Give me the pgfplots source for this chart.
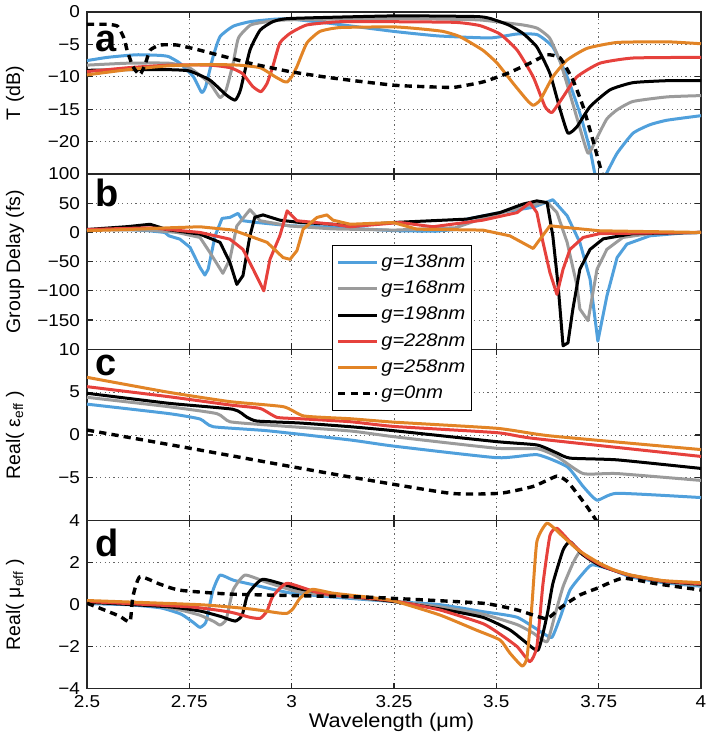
\documentclass[border=0pt]{standalone}
\usepackage{pgfplots}
\pgfplotsset{compat=1.18}
\usepackage{fontspec}
\setmainfont{Liberation Sans}
\newfontfamily\hfont[FakeStretch=1.1]{Liberation Sans}
\definecolor{cblue}{RGB}{80,160,220}
\definecolor{cgray}{RGB}{155,155,155}
\definecolor{cblack}{RGB}{0,0,0}
\definecolor{cred}{RGB}{230,65,60}
\definecolor{corange}{RGB}{226,132,38}
\tikzset{
 gz/.style={cblack, line width=1.7pt, dash pattern=on 3.6pt off 2.6pt},
 letter/.style={anchor=base west, inner sep=0pt, font=\fontsize{19}{19}\selectfont\bfseries},
}
\pgfplotsset{
 panel/.style={
  scale only axis, width=307pt, xmin=2.5, xmax=4,
  xtick={2.5,2.75,3,3.25,3.5,3.75,4},
  axis line style={line width=0.75pt, black!85},
  grid=major,
  major grid style={line width=0.45pt, black!60, dash pattern=on 0.6pt off 1.6pt},
  tick align=inside, tick pos=both, major tick length=3pt,
  tick style={line width=0.6pt, black!85},
  ticklabel style={font=\hfont\fontsize{8.6}{10}\selectfont},
  ylabel style={font=\fontsize{9.75}{11}\selectfont, at={(axis description cs:-0.117,0.5)}, anchor=center},
  every axis plot/.append style={line width=1.5pt, line join=round},
 },
 sm/.style={smooth, tension=0.3},
}
\begin{document}
\begin{tikzpicture}
% ---------------- panel a
\begin{axis}[panel, at={(0pt,0pt)}, anchor=north west, height=81pt,
  ymin=-25, ymax=0, ytick={-20,-15,-10,-5,0}, yticklabels={−20,−15,−10,−5,0},
  xticklabels={}, ylabel={T (dB)}]
\addplot[cblue,sm] coordinates {(2.5,-7.5)(2.55,-7.0)(2.62,-6.6)(2.68,-6.7)(2.70,-6.9)(2.727,-7.9)(2.76,-10.0)(2.78,-12.4)(2.79,-11.5)(2.808,-6.9)(2.825,-3.8)(2.857,-2.2)(2.898,-1.5)(2.96,-1.1)(3.0,-1.1)(3.1,-1.8)(3.25,-3.0)(3.36,-3.7)(3.485,-4.0)(3.55,-3.4)(3.60,-3.5)(3.638,-5.4)(3.673,-10)(3.704,-15.6)(3.729,-21.3)(3.741,-25)(3.753,-26.5)(3.77,-24.8)(3.795,-21.8)(3.834,-18.7)(3.875,-17.4)(3.917,-16.7)(4.0,-16.0)};
\addplot[cgray,sm] coordinates {(2.5,-8.2)(2.6,-7.9)(2.70,-7.9)(2.75,-8.6)(2.80,-11.0)(2.825,-13.2)(2.84,-12.0)(2.857,-7.9)(2.87,-4.0)(2.90,-2.0)(2.95,-1.4)(3.0,-1.2)(3.25,-1.0)(3.45,-1.2)(3.50,-1.5)(3.565,-2.0)(3.60,-2.5)(3.63,-4)(3.655,-7.5)(3.675,-11.6)(3.70,-17)(3.724,-21.8)(3.745,-19.5)(3.770,-16.5)(3.795,-15.1)(3.834,-13.8)(3.917,-13.1)(4.0,-12.9)};
\addplot[cblack,sm] coordinates {(2.5,-9.0)(2.6,-8.9)(2.70,-8.9)(2.75,-9.1)(2.80,-10.5)(2.84,-12.8)(2.862,-13.6)(2.875,-12)(2.898,-5.9)(2.923,-2.8)(2.954,-1.5)(2.996,-1.0)(3.25,-0.6)(3.45,-0.7)(3.485,-1.0)(3.53,-2.0)(3.565,-3.3)(3.599,-5.4)(3.631,-9.5)(3.656,-15.1)(3.675,-18.7)(3.697,-17.7)(3.729,-14.6)(3.778,-12)(3.834,-10.9)(3.917,-10.6)(4.0,-10.6)};
\addplot[cred,sm] coordinates {(2.5,-9.2)(2.6,-8.6)(2.70,-8.2)(2.80,-8.2)(2.85,-8.6)(2.88,-9.5)(2.905,-11.5)(2.925,-12.3)(2.94,-11.0)(2.954,-8.4)(2.971,-4.8)(2.996,-3.3)(3.037,-2.0)(3.118,-1.5)(3.25,-1.5)(3.40,-1.6)(3.46,-2.1)(3.509,-3.4)(3.551,-5.9)(3.590,-10)(3.619,-14.6)(3.636,-15.5)(3.663,-13.1)(3.697,-10)(3.753,-7.9)(3.834,-7.1)(4.0,-7.0)};
\addplot[corange,sm] coordinates {(2.5,-9.7)(2.6,-8.9)(2.70,-8.3)(2.80,-8.1)(2.87,-8.2)(2.923,-8.6)(2.96,-10.0)(2.98,-10.7)(2.989,-10.8)(3.0,-10.0)(3.013,-8.4)(3.037,-4.8)(3.069,-3.0)(3.118,-2.4)(3.25,-2.3)(3.314,-2.6)(3.37,-3.0)(3.411,-3.8)(3.467,-5.9)(3.502,-7.9)(3.541,-11)(3.575,-13.6)(3.590,-14.4)(3.607,-13.6)(3.638,-10)(3.673,-7.4)(3.722,-5.6)(3.795,-4.7)(3.917,-4.6)(4.0,-4.9)};
\addplot[gz,sm] coordinates {(2.5,-1.9)(2.55,-1.9)(2.575,-2.2)(2.59,-4.0)(2.598,-5.9)(2.612,-8.4)(2.629,-9.7)(2.642,-8.1)(2.654,-5.9)(2.678,-5.1)(2.72,-5.1)(2.776,-5.9)(2.898,-7.9)(2.996,-9.2)(3.101,-10.2)(3.25,-11.3)(3.362,-11.6)(3.40,-11.6)(3.467,-10.8)(3.526,-9.5)(3.582,-7.9)(3.624,-6.6)(3.656,-7.1)(3.687,-10.5)(3.712,-14.6)(3.736,-19.8)(3.758,-24.9)(3.775,-28)};
\node[letter] at (rel axis cs:0.013,0.755) {a};
\end{axis}
% ---------------- panel b
\begin{axis}[panel, at={(0pt,-81pt)}, anchor=north west, height=87.65pt,
  ymin=-200, ymax=100, ytick={-150,-100,-50,0,50,100}, yticklabels={−150,−100,−50,0,50,100},
  xticklabels={}, ylabel={Group Delay (fs)}]
\addplot[cblue] coordinates {(2.5,5)(2.6,5)(2.65,3)(2.69,0)(2.70,-5.8)(2.727,-11.5)(2.752,-25.7)(2.776,-60)(2.788,-73)(2.796,-63)(2.813,-5.8)(2.830,24)(2.849,25.7)(2.869,32.6)(2.881,20)(2.915,17)(2.996,11.4)(3.1,9)(3.25,3)(3.35,2)(3.40,5)(3.428,22.8)(3.509,34)(3.590,43)(3.631,54)(3.638,56)(3.673,28.5)(3.704,-17)(3.729,-80)(3.748,-186)(3.770,-109)(3.795,-43)(3.819,-20)(3.875,-5.8)(3.956,-1)(4.0,0)};
\addplot[cgray] coordinates {(2.5,5)(2.65,4)(2.72,0)(2.776,-8.6)(2.800,-34)(2.832,-70)(2.849,-46)(2.866,11)(2.898,39)(2.923,20)(2.996,11)(3.1,6)(3.25,4)(3.4,8)(3.45,20)(3.509,33)(3.57,45)(3.624,52)(3.648,34)(3.673,-17)(3.697,-91)(3.704,-131)(3.724,-151)(3.746,-63)(3.770,-29)(3.809,-8.6)(3.875,-2)(4.0,0)};
\addplot[cblack] coordinates {(2.5,5)(2.6,10)(2.654,14)(2.695,5)(2.776,-3)(2.825,-17)(2.849,-51)(2.866,-89)(2.881,-74)(2.898,-6)(2.910,26)(2.930,30)(2.971,21)(3.020,17)(3.101,14)(3.143,11)(3.248,17)(3.428,22.8)(3.509,34)(3.565,48.5)(3.599,54)(3.624,51)(3.638,-6)(3.651,-91)(3.663,-194)(3.675,-189)(3.687,-131)(3.704,-63)(3.729,-29)(3.761,-11)(3.834,-2)(4.0,0)};
\addplot[cred] coordinates {(2.5,5)(2.654,8)(2.776,0)(2.849,-11.5)(2.881,-29)(2.906,-63)(2.932,-100)(2.947,-46)(2.971,-6)(2.989,37)(3.013,20)(3.101,14)(3.143,9.7)(3.265,17)(3.345,9.7)(3.467,21)(3.551,34)(3.582,51)(3.599,34)(3.614,-17)(3.631,-69)(3.648,-106)(3.663,-63)(3.680,-29)(3.712,-8.6)(3.753,-2)(4.0,0)};
\addplot[corange] coordinates {(2.5,3)(2.6,5)(2.703,8)(2.776,9.7)(2.857,4)(2.940,-17)(2.979,-43)(2.996,-46)(3.013,-31)(3.028,5.6)(3.062,25.7)(3.086,30)(3.101,21)(3.143,14)(3.248,17)(3.306,5.6)(3.467,4)(3.533,-5.8)(3.590,-27.5)(3.631,11.4)(3.663,9)(3.753,2.8)(4.0,0)};
\node[letter] at (rel axis cs:0.013,0.817) {b};
\end{axis}
% ---------------- panel c
\begin{axis}[panel, at={(0pt,-168.65pt)}, anchor=north west, height=85.7pt,
  ymin=-10, ymax=10, ytick={-5,0,5,10}, yticklabels={−5,0,5,10},
  xticklabels={}, ylabel={Real( ε\textsubscript{eff} )}]
\addplot[cblue,sm] coordinates {(2.5,3.6)(2.70,2.5)(2.776,1.87)(2.808,0.97)(2.94,0.5)(3.143,-0.58)(3.25,-1.3)(3.502,-2.65)(3.60,-2.3)(3.673,-3.7)(3.712,-6.0)(3.746,-7.6)(3.795,-6.8)(4.0,-7.3)};
\addplot[cgray,sm] coordinates {(2.5,4.4)(2.70,3.3)(2.817,2.5)(2.849,1.55)(2.94,1.17)(3.143,0.47)(3.25,-0.2)(3.502,-1.55)(3.60,-1.6)(3.648,-2.5)(3.712,-4.5)(3.795,-4.5)(4.0,-5.3)};
\addplot[cblack,sm] coordinates {(2.5,4.87)(2.70,3.7)(2.857,3.0)(2.89,2.1)(2.915,1.63)(3.02,1.4)(3.143,0.97)(3.25,0.5)(3.502,-0.78)(3.60,-1.17)(3.648,-2.1)(3.680,-2.7)(3.795,-2.9)(4.0,-3.9)};
\addplot[cred,sm] coordinates {(2.5,5.64)(2.70,4.47)(2.85,3.5)(2.923,3.1)(2.964,2.06)(3.02,1.9)(3.143,1.55)(3.25,1.0)(3.502,0.27)(3.59,-0.39)(4.0,-2.5)};
\addplot[corange,sm] coordinates {(2.5,6.73)(2.70,4.98)(2.85,3.89)(2.98,3.3)(3.03,2.22)(3.143,1.9)(3.25,1.5)(3.502,0.78)(3.631,-0.1)(4.0,-1.7)};
\addplot[gz,sm] coordinates {(2.5,0.58)(2.752,-1.55)(2.989,-3.6)(3.143,-4.9)(3.387,-6.8)(3.509,-6.8)(3.590,-6.0)(3.648,-4.8)(3.673,-5.4)(3.697,-6.8)(3.722,-8.4)(3.746,-10.1)(3.765,-11.5)};
\node[letter] at (rel axis cs:0.013,0.85) {c};
\end{axis}
% ---------------- panel d
\begin{axis}[panel, name=pd, at={(0pt,-254.35pt)}, anchor=north west, height=84pt,
  ymin=-4, ymax=4, ytick={-4,-2,0,2,4}, yticklabels={−4,−2,0,2,4},
  xticklabels={2.5,2.75,3,3.25,3.5,3.75,4},
  ylabel={Real( μ\textsubscript{eff} )},
  legend style={at={(axis description cs:0.399,2.641)}, anchor=north west,
    draw=black, line width=0.6pt, fill=white, inner xsep=2pt, inner ysep=2pt, row sep=0pt,
    font=\hfont\itshape\fontsize{9.1}{11}\selectfont,
    nodes={text height=7.4pt, text depth=2.6pt, inner ysep=1.55pt, inner xsep=1.2pt, anchor=west}},
  legend cell align=left,
  legend image code/.code={\draw[#1] (0pt,0pt) -- (19.5pt,0pt);}]
\addplot[cblue,sm] coordinates {(2.5,0.05)(2.6,0.0)(2.68,-0.15)(2.73,-0.45)(2.76,-0.85)(2.776,-1.08)(2.79,-0.85)(2.80,0.0)(2.808,0.7)(2.825,1.41)(2.857,1.17)(2.906,0.95)(3.0,0.55)(3.143,0.3)(3.25,0.15)(3.362,0.0)(3.467,-0.33)(3.551,-0.6)(3.614,-1.36)(3.636,-1.55)(3.656,-0.6)(3.680,0.7)(3.712,1.5)(3.734,1.9)(3.785,1.65)(3.827,1.33)(3.907,1.05)(4.0,0.88)};
\addlegendentry{g=138nm}
\addplot[cgray,sm] coordinates {(2.5,0.1)(2.65,0.0)(2.727,-0.25)(2.776,-0.5)(2.81,-0.8)(2.825,-0.97)(2.84,-0.7)(2.857,0.7)(2.886,1.41)(2.94,1.06)(3.02,0.6)(3.143,0.35)(3.25,0.15)(3.362,-0.1)(3.467,-0.45)(3.551,-0.95)(3.59,-1.35)(3.624,-1.76)(3.643,-0.5)(3.663,0.86)(3.687,1.97)(3.704,2.5)(3.73,2.1)(3.785,1.65)(3.827,1.38)(3.907,1.1)(4.0,0.93)};
\addlegendentry{g=168nm}
\addplot[cblack,sm] coordinates {(2.5,0.12)(2.70,-0.1)(2.776,-0.3)(2.825,-0.55)(2.862,-0.78)(2.879,-0.5)(2.893,0.5)(2.93,1.21)(3.02,0.75)(3.143,0.4)(3.25,0.15)(3.362,-0.2)(3.467,-0.6)(3.533,-1.2)(3.565,-1.68)(3.602,-2.16)(3.624,-0.5)(3.638,1.0)(3.663,2.6)(3.680,3.0)(3.71,2.4)(3.75,1.9)(3.785,1.65)(3.827,1.4)(3.907,1.12)(4.0,0.97)};
\addlegendentry{g=198nm}
\addplot[cred,sm] coordinates {(2.5,0.15)(2.75,-0.1)(2.849,-0.35)(2.898,-0.6)(2.923,-0.65)(2.94,-0.3)(2.954,0.4)(2.989,1.02)(3.069,0.55)(3.167,0.35)(3.25,0.18)(3.362,-0.25)(3.467,-0.9)(3.509,-1.4)(3.551,-2.0)(3.582,-2.71)(3.599,-2.0)(3.614,1.0)(3.631,3.3)(3.648,3.64)(3.68,3.0)(3.72,2.3)(3.76,1.85)(3.785,1.65)(3.827,1.4)(3.907,1.13)(4.0,1.0)};
\addlegendentry{g=228nm}
\addplot[corange,sm] coordinates {(2.5,0.2)(2.776,0.0)(2.898,-0.2)(2.971,-0.4)(2.989,-0.41)(3.003,-0.2)(3.02,0.3)(3.05,0.73)(3.101,0.55)(3.191,0.35)(3.25,0.18)(3.362,-0.49)(3.45,-1.2)(3.509,-1.68)(3.533,-2.3)(3.563,-2.92)(3.575,-2.5)(3.587,0.0)(3.599,3.0)(3.624,3.88)(3.66,3.3)(3.70,2.6)(3.75,2.0)(3.785,1.68)(3.827,1.42)(3.907,1.15)(4.0,1.05)};
\addlegendentry{g=258nm}
\addplot[gz,sm] coordinates {(2.5,0.07)(2.532,-0.17)(2.58,-0.55)(2.605,-0.81)(2.612,0.38)(2.629,1.33)(2.678,0.98)(2.727,0.69)(2.857,0.5)(3.167,0.37)(3.25,0.3)(3.467,0.07)(3.551,-0.25)(3.607,-0.6)(3.626,-0.65)(3.66,-0.1)(3.704,0.46)(3.746,0.78)(3.809,1.26)(3.893,0.99)(4.0,0.7)};
\addlegendentry{g=0nm}
\node[letter] at (rel axis cs:0.013,0.786) {d};
\end{axis}
\node[anchor=center, inner sep=0pt, font=\hfont\fontsize{9.9}{11}\selectfont] at ([xshift=-1.25pt,yshift=-16.8pt]pd.south) {Wavelength (μm)};
\pgfresetboundingbox
\path[use as bounding box] (-43.5pt,6pt) rectangle (312pt,-366pt);
\end{tikzpicture}
\end{document}
